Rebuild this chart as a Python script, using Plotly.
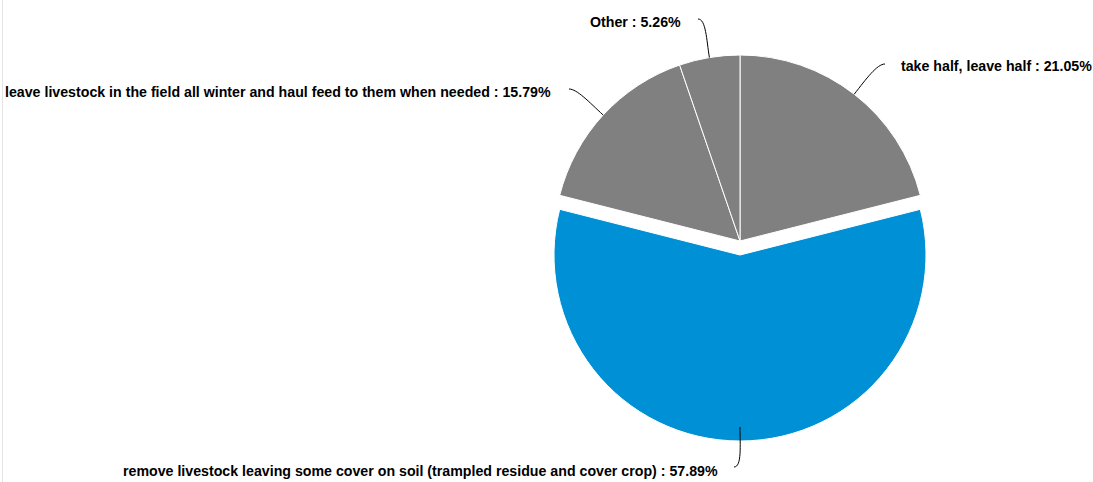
import math
import plotly.graph_objects as go

# ---- data ----
labels = [
    "take half, leave half",
    "remove livestock leaving some cover on soil (trampled residue and cover crop)",
    "leave livestock in the field all winter and haul feed to them when needed",
    "Other",
]
values = [21.05, 57.89, 15.79, 5.26]
sliced = [False, True, False, False]

# ---- style / layout constants ----
W, H = 1093, 482
CX, CY, R = 740, 241, 186          # pie centre and radius in pixels
SLICE_OFFSET = 14                  # pixels a sliced wedge is pulled out
colors = ["#808080", "#0090d5", "#808080", "#808080"]
FONT = dict(family="Liberation Sans, Arial, Helvetica, sans-serif", size=14.2, color="#000000", weight="bold")

# label anchor placement (connector end, text anchor) in pixels
label_layout = [
    dict(end=(885, 64), text=(899, 66), side="left"),
    dict(end=(734, 467), text=(720, 471), side="right"),
    dict(end=(569, 89), text=(553, 92), side="right"),
    dict(end=(698, 19), text=(683, 22), side="right"),
]

pull_frac = SLICE_OFFSET / R
pulls = [pull_frac if s else 0 for s in sliced]
max_pull = max(pulls)
half_box = R * (1 + max_pull)

def px(x):
    return x / W

def py(y):
    return 1 - y / H

fig = go.Figure(go.Pie(
    labels=labels,
    values=values,
    sort=False,
    direction="clockwise",
    rotation=0,
    pull=pulls,
    marker=dict(colors=colors, line=dict(color="#ffffff", width=1)),
    textinfo="none",
    hoverinfo="label+percent",
    showlegend=False,
    domain=dict(x=[px(CX - half_box), px(CX + half_box)],
                y=[py(CY + half_box), py(CY - half_box)]),
))

# connectors + labels, anchors computed from the data angles
total = sum(values)
cum = 0.0
shapes = []
annotations = []
for lab, val, lay in zip(labels, values, label_layout):
    mid = (cum + val / 2) / total * 2 * math.pi
    cum += val
    dx, dy = math.sin(mid), -math.cos(mid)
    x0, y0 = CX + R * dx, CY + R * dy
    x3, y3 = lay["end"]
    k = 0.45 * math.hypot(x3 - x0, y3 - y0)
    x1, y1 = x0 + k * dx, y0 + k * dy
    hdir = 1 if lay["side"] == "right" else -1
    x2, y2 = x3 + hdir * 8, y3
    path = (f"M {px(x0)},{py(y0)} C {px(x1)},{py(y1)} "
            f"{px(x2)},{py(y2)} {px(x3)},{py(y3)}")
    shapes.append(dict(type="path", xref="paper", yref="paper", path=path,
                       line=dict(color="#000000", width=1)))
    annotations.append(dict(
        xref="paper", yref="paper",
        x=px(lay["text"][0]), y=py(lay["text"][1]),
        xanchor=lay["side"], yanchor="middle",
        text=f"{lab} : {val:.2f}%", showarrow=False, font=FONT,
    ))

# thin container border on the left
shapes.append(dict(type="line", xref="paper", yref="paper",
                   x0=px(2.5), x1=px(2.5), y0=0, y1=1,
                   line=dict(color="#e3e3e3", width=1)))

fig.update_layout(
    width=W, height=H,
    margin=dict(l=0, r=0, t=0, b=0),
    paper_bgcolor="#ffffff",
    plot_bgcolor="#ffffff",
    shapes=shapes,
    annotations=annotations,
)

fig.write_html("out.html",
               config={"displayModeBar": False},
               post_script="document.body.style.margin='0';document.body.style.overflow='hidden';")
